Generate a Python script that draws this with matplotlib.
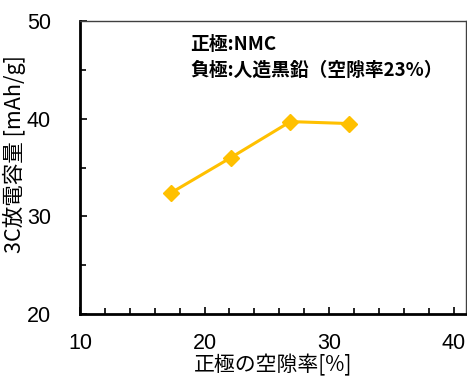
import matplotlib
matplotlib.use("Agg")
import matplotlib.pyplot as plt
from matplotlib.ticker import MultipleLocator

plt.rcParams['font.family'] = ['Noto Sans CJK JP', 'DejaVu Sans']

# cathode porosity [%] vs 3C discharge capacity [mAh/g]
porosity = [17.3, 22.1, 26.9, 31.6]
capacity = [32.4, 36.0, 39.7, 39.5]

x_label = "正極の空隙率[%]"
y_label = "3C放電容量 [mAh/g]"
note_lines = ["正極:NMC", "負極:人造黒鉛（空隙率23%）"]
gold = "#FFC000"

fig = plt.figure(figsize=(4.67, 3.76), dpi=100)
ax = fig.add_axes([80 / 467, 62 / 376, 386 / 467, 293 / 376])

ax.plot(porosity, capacity, color=gold, lw=2.2, marker="D", ms=8.5,
        markeredgecolor=gold, markerfacecolor=gold)

ax.set_xlim(10, 41)
ax.set_ylim(20, 50)
ax.xaxis.set_major_locator(MultipleLocator(10))
ax.xaxis.set_minor_locator(MultipleLocator(2))
ax.yaxis.set_major_locator(MultipleLocator(10))
ax.yaxis.set_minor_locator(MultipleLocator(5))
ax.tick_params(which="both", direction="in", labelsize=15.5, width=1.2,
               labelfontfamily="Liberation Sans")
ax.tick_params(which="major", length=5)
ax.tick_params(which="minor", length=4)
ax.tick_params(axis="x", pad=14)
ax.tick_params(axis="y", pad=21)
ax.tick_params(top=False, right=False)

for side in ("left", "bottom"):
    ax.spines[side].set_linewidth(2)
    ax.spines[side].set_color("black")
for side in ("top", "right"):
    ax.spines[side].set_linewidth(1)
    ax.spines[side].set_color("#404040")

ax.set_xlabel(x_label, fontsize=15, va="baseline")
ax.set_ylabel(y_label, fontsize=15.5)
ax.xaxis.set_label_coords(0.5, -0.197)
ax.yaxis.set_label_coords(-0.14, 0.545)

ax.text(0.285, 0.92, note_lines[0], transform=ax.transAxes, fontsize=13.5,
        fontweight="bold", va="center")
ax.text(0.285, 0.83, note_lines[1], transform=ax.transAxes, fontsize=13.5,
        fontweight="bold", va="center")

fig.savefig("out.png", dpi=100)
